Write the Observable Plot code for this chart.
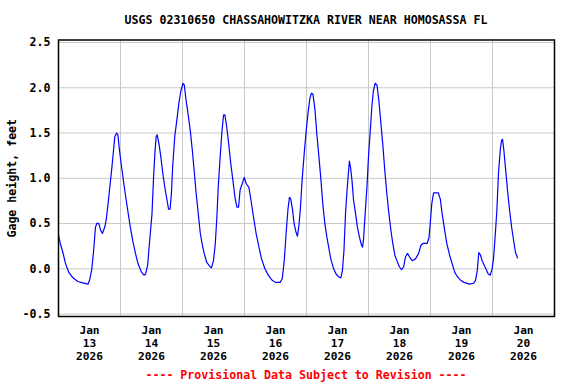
<!DOCTYPE html>
<html><head><meta charset="utf-8">
<script src="https://cdn.jsdelivr.net/npm/d3@7"></script>
<script src="https://cdn.jsdelivr.net/npm/@observablehq/plot@0.6"></script>
<style>
body{margin:0;background:#fff;}
#wrap{position:relative;width:576px;height:384px;overflow:hidden;font-family:"DejaVu Sans Mono",monospace;font-weight:bold;background:#fff;}
#title{position:absolute;left:58px;width:496px;top:13px;text-align:center;font-size:11.6px;line-height:14px;color:#000;white-space:nowrap;}
#chart{position:absolute;left:0;top:30px;}
#caption{position:absolute;left:58px;width:496px;top:368px;text-align:center;font-size:11.6px;line-height:14px;color:#ff0000;white-space:nowrap;}
</style>
</head><body>
<div id="wrap">
<div id="title"></div>
<div id="chart"></div>
<div id="caption"></div>
</div>
<script>
const titleText = "USGS 02310650 CHASSAHOWITZKA RIVER NEAR HOMOSASSA FL";
const captionText = "---- Provisional Data Subject to Revision ----";
const yLabel = "Gage height, feet";
const startTime = "2026-01-13T00:00:00Z";
const endTime = "2026-01-21T00:00:00Z";
const monthLabel = "Jan";
const yearLabel = "2026";
const tickDays = [13, 14, 15, 16, 17, 18, 19, 20];
const gridDays = [14, 15, 16, 17, 18, 19, 20];
const yTicks = [-0.5, 0.0, 0.5, 1.0, 1.5, 2.0, 2.5];

// hours since Jan 13 2026 00:00
const hours = [0.0,0.7,1.7,2.7,4.0,5.6,7.5,9.4,11.4,12.0,12.9,13.6,14.3,14.9,15.6,16.4,17.0,18.0,18.5,19.2,20.0,20.7,21.3,21.8,22.5,23.0,23.6,24.4,25.3,26.2,27.0,27.8,28.8,29.8,30.8,32.0,33.1,33.7,34.5,35.2,36.2,36.8,37.3,37.8,38.2,38.9,39.6,40.4,41.2,42.0,42.6,43.2,43.7,44.2,45.0,45.8,46.6,47.4,48.2,48.7,49.4,50.2,51.0,51.8,52.5,53.3,54.1,54.9,55.7,56.4,57.4,58.5,59.2,60.0,60.7,61.3,61.9,62.6,63.3,63.9,64.4,65.2,66.0,66.7,67.5,68.3,69.1,69.7,70.3,71.1,71.9,72.7,73.7,74.5,75.5,76.5,77.6,78.6,79.9,81.2,82.5,83.9,85.8,86.6,87.4,88.1,88.8,89.4,89.9,90.6,91.2,91.9,92.5,93.0,93.6,94.3,95.1,95.9,96.7,97.3,97.9,98.5,99.3,100.0,100.8,101.6,102.3,103.1,103.9,104.7,105.4,106.5,107.5,108.5,109.3,109.9,110.5,111.1,111.6,112.3,112.6,113.0,113.6,114.2,115.0,115.7,116.5,117.3,117.7,118.1,118.7,119.4,120.0,120.7,121.3,121.9,122.6,123.3,124.0,124.8,125.6,126.3,127.1,127.9,128.7,129.4,130.2,131.0,132.0,132.8,133.6,134.3,135.1,135.9,136.9,138.2,139.4,140.3,141.1,142.7,143.4,143.9,144.5,145.2,147.0,147.8,148.5,149.3,150.3,151.4,152.4,153.4,154.5,155.8,157.0,159.1,160.6,161.4,162.1,162.7,163.3,164.0,164.8,165.6,166.3,167.1,167.8,168.4,169.0,169.7,170.3,171.0,171.5,171.9,172.4,173.1,173.8,174.6,175.4,176.2,176.9,177.7];
const gage = [0.37,0.28,0.18,0.06,-0.04,-0.10,-0.14,-0.155,-0.17,-0.13,0.0,0.2,0.46,0.505,0.50,0.42,0.39,0.47,0.55,0.72,0.94,1.13,1.31,1.46,1.50,1.48,1.31,1.13,0.94,0.76,0.61,0.46,0.30,0.17,0.055,-0.03,-0.07,-0.06,0.04,0.28,0.61,1.01,1.27,1.46,1.48,1.38,1.24,1.05,0.89,0.76,0.66,0.66,0.83,1.13,1.46,1.64,1.83,1.97,2.05,2.03,1.86,1.70,1.53,1.31,1.09,0.83,0.61,0.39,0.26,0.17,0.07,0.03,0.01,0.09,0.28,0.57,0.94,1.24,1.53,1.70,1.70,1.55,1.35,1.16,0.98,0.79,0.68,0.68,0.87,0.94,1.01,0.94,0.90,0.76,0.57,0.39,0.24,0.11,0.0,-0.07,-0.12,-0.15,-0.15,-0.11,0.09,0.39,0.65,0.79,0.77,0.65,0.50,0.41,0.36,0.46,0.65,0.98,1.27,1.53,1.75,1.88,1.94,1.93,1.75,1.49,1.24,0.98,0.72,0.50,0.35,0.22,0.11,0.0,-0.06,-0.09,-0.10,-0.02,0.20,0.61,0.83,1.09,1.19,1.13,0.98,0.76,0.61,0.46,0.35,0.26,0.24,0.33,0.61,0.90,1.24,1.53,1.79,1.97,2.05,2.03,1.86,1.61,1.35,1.09,0.83,0.61,0.42,0.28,0.15,0.09,0.02,-0.01,0.02,0.13,0.17,0.13,0.09,0.11,0.17,0.26,0.28,0.28,0.34,0.50,0.72,0.84,0.84,0.77,0.61,0.46,0.28,0.15,0.055,-0.04,-0.09,-0.13,-0.15,-0.17,-0.16,-0.13,-0.02,0.18,0.155,0.09,0.04,-0.01,-0.055,-0.07,-0.01,0.11,0.35,0.65,1.05,1.31,1.42,1.43,1.31,1.09,0.87,0.65,0.46,0.31,0.18,0.12];

document.getElementById("title").textContent = titleText;
document.getElementById("caption").textContent = captionText;

const t0 = new Date(startTime);
const data = hours.map((h, i) => ({t: new Date(t0.getTime() + h * 3600e3), v: gage[i]}));
const dayDate = (d, hr) => new Date(Date.UTC(2026, 0, d, hr));
const xTicks = tickDays.map(d => dayDate(d, 12));
const xGrid = gridDays.map(d => dayDate(d, 0));

const chart = Plot.plot({
  width: 576,
  height: 336,
  marginLeft: 58,
  marginRight: 22,
  marginTop: 9.5,
  marginBottom: 50,
  style: {fontFamily: '"DejaVu Sans Mono", monospace', fontWeight: "bold", fontSize: "11.2px", color: "#000", background: "#fff"},
  x: {type: "utc", domain: [new Date(startTime), new Date(endTime)]},
  y: {domain: [-0.527, 2.528]},
  marks: [
    Plot.gridY(yTicks, {stroke: "#c8c8c8", strokeOpacity: 1, strokeWidth: 1}),
    Plot.gridX(xGrid, {stroke: "#c8c8c8", strokeOpacity: 1, strokeWidth: 1}),
    Plot.axisY(yTicks, {tickSize: 0, tickPadding: 8, tickFormat: d => d.toFixed(1), label: yLabel, labelAnchor: "center", labelArrow: "none", labelOffset: 51, fontSize: 11.6}),
    Plot.axisX(xTicks, {tickSize: 0, tickPadding: 8, tickFormat: d => `${monthLabel}\n${d.getUTCDate()}\n${yearLabel}`, lineHeight: 1.16, label: null}),
    Plot.line(data, {x: "t", y: "v", stroke: "#0000ff", strokeWidth: 1.2}),
    Plot.frame({stroke: "#000", strokeWidth: 1.5})
  ]
});
document.getElementById("chart").appendChild(chart);
</script>
</body></html>
